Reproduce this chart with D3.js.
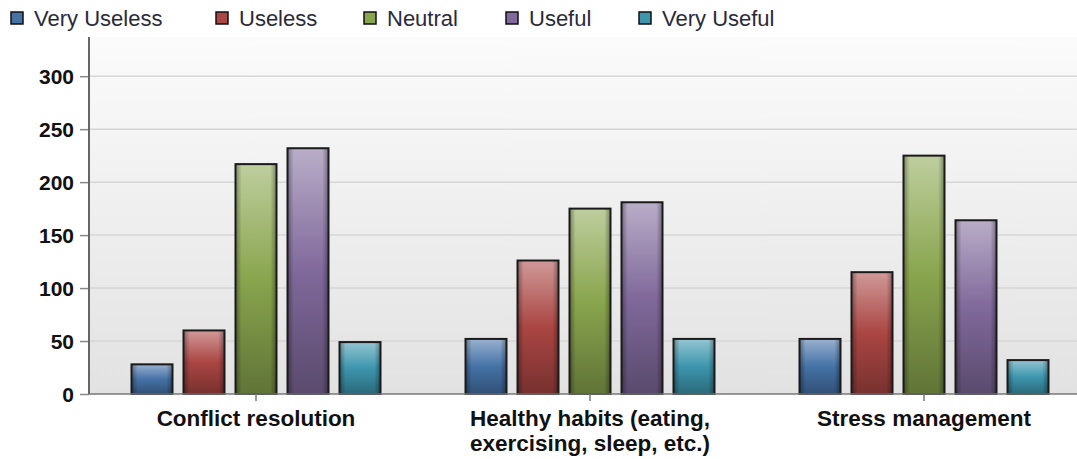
<!DOCTYPE html>
<html><head><meta charset="utf-8">
<script src="https://cdn.jsdelivr.net/npm/d3@7"></script>
<style>html,body{margin:0;padding:0;background:#fff;}svg{display:block;}</style>
</head><body>
<svg id="chart" width="1077" height="459"></svg>
<script>
const categories = ["Conflict resolution", "Healthy habits (eating, exercising, sleep, etc.)", "Stress management"];
const categoryLines = [["Conflict resolution"], ["Healthy habits (eating,", "exercising, sleep, etc.)"], ["Stress management"]];
const series = ["Very Useless", "Useless", "Neutral", "Useful", "Very Useful"];
const veryUseless = [28, 52, 52];
const useless = [60, 126, 115];
const neutral = [217, 175, 225];
const useful = [232, 181, 164];
const veryUseful = [49, 52, 32];
const yTicks = [0, 50, 100, 150, 200, 250, 300];
const colors = ["#4572A7", "#AA4643", "#89A54E", "#80699B", "#3D96AE"];
const values = [veryUseless, useless, neutral, useful, veryUseful];

const svg = d3.select("#chart");
const mLeft = 89, mRight = 1091, mTop = 37, mBottom = 394;
const FONT = "Liberation Sans, Arial, sans-serif";

const y = d3.scaleLinear().domain([0, 337]).range([mBottom, mTop]);
const x0 = d3.scaleBand().domain(categories).range([mLeft, mRight]).padding(0);
const step = 52, bw = 41;
const x1 = d3.scaleBand().domain(series)
  .range([x0.bandwidth()/2 - step*2.5, x0.bandwidth()/2 + step*2.5])
  .paddingInner((step-bw)/step).paddingOuter((step-bw)/step/2);

const defs = svg.append("defs");
const bg = defs.append("linearGradient").attr("id","bg").attr("x1",0).attr("y1",0).attr("x2",0).attr("y2",1);
bg.append("stop").attr("offset","0%").attr("stop-color","#fbfbfb");
bg.append("stop").attr("offset","100%").attr("stop-color","#e2e2e2");

colors.forEach((c,i)=>{
  const g = defs.append("linearGradient").attr("id","v"+i).attr("x1",0).attr("y1",0).attr("x2",0).attr("y2",1);
  g.append("stop").attr("offset","0%").attr("stop-color", d3.interpolateRgb(c,"#fff")(0.45));
  g.append("stop").attr("offset","50%").attr("stop-color", c);
  g.append("stop").attr("offset","100%").attr("stop-color", d3.interpolateRgb(c,"#000")(0.3));
});
const hg = defs.append("linearGradient").attr("id","hshade").attr("x1",0).attr("y1",0).attr("x2",1).attr("y2",0);
hg.append("stop").attr("offset","0%").attr("stop-color","#000").attr("stop-opacity",0.35);
hg.append("stop").attr("offset","15%").attr("stop-color","#000").attr("stop-opacity",0);
hg.append("stop").attr("offset","85%").attr("stop-color","#000").attr("stop-opacity",0);
hg.append("stop").attr("offset","100%").attr("stop-color","#000").attr("stop-opacity",0.35);

svg.append("rect").attr("x",mLeft).attr("y",mTop).attr("width",1077-mLeft).attr("height",mBottom-mTop).attr("fill","url(#bg)");

// gridlines
svg.append("g").selectAll("line").data(yTicks.filter(d=>d>0)).join("line")
  .attr("x1",mLeft).attr("x2",1077).attr("y1",d=>y(d)).attr("y2",d=>y(d))
  .attr("stroke","#d6d6d6").attr("stroke-width",1.5);

// y axis
const ya = svg.append("g").attr("transform",`translate(${mLeft},0)`)
  .call(d3.axisLeft(y).tickValues(yTicks).tickSize(9).tickPadding(6));
ya.select(".domain").remove();
ya.selectAll(".tick line").attr("stroke","#888").attr("stroke-width",1.5);
ya.selectAll(".tick text").attr("font-family",FONT).attr("font-size",21).attr("font-weight","bold").attr("fill","#111").attr("dy","0.36em");
svg.append("line").attr("x1",mLeft).attr("x2",mLeft).attr("y1",mTop).attr("y2",mBottom).attr("stroke","#666").attr("stroke-width",2);

// bars
const groups = svg.append("g").selectAll("g").data(categories).join("g")
  .attr("transform",d=>`translate(${x0(d)},0)`);
groups.each(function(cat, ci){
  const g = d3.select(this);
  series.forEach((s, si)=>{
    const v = values[si][ci];
    const bx = x1(s), by = y(v), bh = y(0)-y(v);
    g.append("rect").attr("x",bx).attr("y",by).attr("width",x1.bandwidth()).attr("height",bh).attr("fill",`url(#v${si})`);
    g.append("rect").attr("x",bx).attr("y",by).attr("width",x1.bandwidth()).attr("height",bh).attr("fill","url(#hshade)");
    g.append("rect").attr("x",bx).attr("y",by).attr("width",x1.bandwidth()).attr("height",bh).attr("fill","none").attr("stroke","#1a1a1a").attr("stroke-width",2);
  });
});

// x axis
svg.append("line").attr("x1",mLeft).attr("x2",1077).attr("y1",mBottom).attr("y2",mBottom).attr("stroke","#777").attr("stroke-width",1.5);
const xa = svg.append("g").attr("transform",`translate(0,${mBottom})`)
  .call(d3.axisBottom(x0).tickSize(7).tickFormat(""));
xa.select(".domain").remove();
xa.selectAll(".tick line").attr("stroke","#777").attr("stroke-width",1.5);
categories.forEach((c,i)=>{
  const t = svg.append("text").attr("x", x0(c)+x0.bandwidth()/2).attr("y", 426)
    .attr("text-anchor","middle").attr("font-family",FONT)
    .attr("font-size",22.5).attr("font-weight","bold").attr("fill","#111");
  categoryLines[i].forEach((l,j)=>t.append("tspan").attr("x", x0(c)+x0.bandwidth()/2).attr("dy", j===0?0:25).text(l));
});

// legend
const legendX = [10, 215, 363, 505, 638];
const lg = svg.append("g").selectAll("g").data(series).join("g").attr("transform",(d,i)=>`translate(${legendX[i]},0)`);
lg.append("rect").attr("x",1).attr("y",12).attr("width",12).attr("height",12).attr("fill",(d,i)=>colors[i]).attr("stroke","#111").attr("stroke-width",1.5);
lg.append("text").attr("x",24).attr("y",26).attr("font-family",FONT).attr("font-size",22).attr("fill","#2a2a3a").text(d=>d);
</script>
</body></html>
